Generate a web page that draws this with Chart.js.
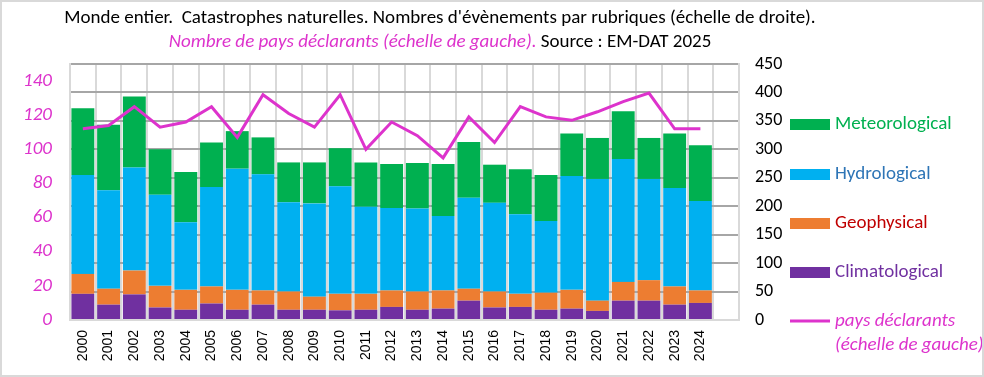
<!DOCTYPE html>
<html>
<head>
<meta charset="utf-8">
<script src="https://cdn.jsdelivr.net/npm/chart.js@4/dist/chart.umd.min.js"></script>
<style>
  html, body { margin: 0; padding: 0; background: #fff; }
  #wrap { width: 984px; height: 377px; }
</style>
</head>
<body>
<div id="wrap"><canvas id="myChart" width="984" height="377"></canvas></div>
<script>
// annees (la derniere case est vide, comme dans le graphique d'origine)
var annees = ["2000","2001","2002","2003","2004","2005","2006","2007","2008","2009","2010","2011","2012",
  "2013","2014","2015","2016","2017","2018","2019","2020","2021","2022","2023","2024",""];

// nombres d'evenements par rubrique (echelle de droite)
var climatological = [46,27,45,22,18,29,18,27,18,18,17,18,23,18,20,34,22,23,18,20,16,34,34,27,30];
var geophysical    = [35,28,42,38,35,30,35,25,32,23,29,28,29,32,32,21,28,23,30,33,18,33,36,32,22];
var hydrological   = [174,173,181,160,119,175,213,204,157,164,189,153,145,146,131,160,156,140,126,200,214,216,178,173,157];
var meteorological = [117,115,125,80,88,78,66,65,70,72,67,78,77,80,91,98,67,79,81,75,72,84,72,96,98];

// nombre de pays declarants (echelle de gauche)
var paysDeclarants = [112,114,125,113,116,125,107,132,121,113,132,100,116,108,95,119,104,125,119,117,122,128,133,112,112];

var ticksGauche = [0,20,40,60,80,100,120,140];

var MAGENTA = "#dd33cc";
var FONT = "Carlito, 'Liberation Sans Narrow', 'Open Sans', sans-serif";

var legende = [
  { label: "Meteorological", fill: "#00b050", text: "#00b050", y: 124 },
  { label: "Hydrological",   fill: "#00b0f0", text: "#2e75b6", y: 174 },
  { label: "Geophysical",    fill: "#ed7d31", text: "#c00000", y: 223 },
  { label: "Climatological", fill: "#7030a0", text: "#7030a0", y: 272 }
];

var decor = {
  id: "decor",
  beforeDraw: function (chart) {
    var ctx = chart.ctx;
    ctx.save();
    ctx.fillStyle = "#fff";
    ctx.fillRect(0, 0, chart.width, chart.height);
    ctx.restore();
  },
  afterDraw: function (chart) {
    var ctx = chart.ctx;
    ctx.save();
    // titre
    ctx.textBaseline = "middle";
    ctx.textAlign = "left";
    ctx.fillStyle = "#000";
    ctx.font = "19px " + FONT;
    var t1 = "Monde entier.  Catastrophes naturelles. Nombres d'\u00e9v\u00e8nements par rubriques (\u00e9chelle de droite).";
    var w1 = ctx.measureText(t1).width;
    ctx.fillText(t1, 440 - w1 / 2, 18);

    var t2a = "Nombre de pays d\u00e9clarants (\u00e9chelle de gauche).";
    var t2b = " Source : EM-DAT 2025";
    ctx.font = "italic 19px " + FONT;
    var wa = ctx.measureText(t2a).width;
    ctx.font = "19px " + FONT;
    var wb = ctx.measureText(t2b).width;
    var x2 = 440 - (wa + wb) / 2;
    ctx.font = "italic 19px " + FONT;
    ctx.fillStyle = MAGENTA;
    ctx.fillText(t2a, x2, 42);
    ctx.font = "19px " + FONT;
    ctx.fillStyle = "#000";
    ctx.fillText(t2b, x2 + wa, 42);

    // legende
    ctx.font = "19px " + FONT;
    legende.forEach(function (l) {
      ctx.fillStyle = l.fill;
      ctx.fillRect(790, l.y - 5, 40, 11);
      ctx.fillStyle = l.text;
      ctx.fillText(l.label, 835, l.y);
    });
    ctx.strokeStyle = MAGENTA;
    ctx.lineWidth = 3;
    ctx.beginPath();
    ctx.moveTo(790, 321);
    ctx.lineTo(830, 321);
    ctx.stroke();
    ctx.fillStyle = MAGENTA;
    ctx.font = "italic 19px " + FONT;
    ctx.fillText("pays d\u00e9clarants", 835, 321);
    ctx.fillText("(\u00e9chelle de gauche)", 835, 345);

    // cadre
    ctx.strokeStyle = "#d9d9d9";
    ctx.lineWidth = 2;
    ctx.strokeRect(1, 1, chart.width - 2, chart.height - 2);
    ctx.restore();
  }
};

new Chart(document.getElementById("myChart"), {
  type: "bar",
  data: {
    labels: annees,
    datasets: [
      { type: "line", label: "pays d\u00e9clarants", data: paysDeclarants, yAxisID: "yL",
        borderColor: MAGENTA, backgroundColor: MAGENTA, borderWidth: 3, pointRadius: 0, tension: 0, order: 0 },
      { label: "Climatological", data: climatological, yAxisID: "yR", backgroundColor: "#7030a0", order: 1 },
      { label: "Geophysical", data: geophysical, yAxisID: "yR", backgroundColor: "#ed7d31", order: 1 },
      { label: "Hydrological", data: hydrological, yAxisID: "yR", backgroundColor: "#00b0f0", order: 1 },
      { label: "Meteorological", data: meteorological, yAxisID: "yR", backgroundColor: "#00b050", order: 1 }
    ]
  },
  options: {
    responsive: false,
    animation: false,
    barPercentage: 0.89,
    categoryPercentage: 1,
    layout: { padding: { top: 64, right: 200, bottom: 0, left: 0 } },
    plugins: {
      legend: { display: false },
      title: { display: false },
      tooltip: { enabled: false }
    },
    scales: {
      x: {
        stacked: true,
        afterFit: function (s) { s.height = 57; },
        grid: { color: "#d9d9d9", lineWidth: 2, drawTicks: false, offset: true },
        border: { color: "#d9d9d9", width: 2 },
        ticks: { color: "#000", minRotation: 90, maxRotation: 90, padding: 10, autoSkip: false,
          font: { family: "'Liberation Sans', Arial, sans-serif", size: 14 } }
      },
      yL: {
        position: "left",
        min: 0, max: 150,
        afterFit: function (s) { s.width = 70; },
        grid: { display: false },
        border: { color: "#d9d9d9", width: 2 },
        afterBuildTicks: function (s) {
          s.ticks = ticksGauche.map(function (v) { return { value: v }; });
        },
        ticks: { color: MAGENTA, padding: 10,
          font: { family: FONT, size: 19, style: "italic" } }
      },
      yR: {
        position: "right",
        stacked: true,
        min: 0, max: 450,
        afterFit: function (s) { s.width = 45; },
        grid: { color: "#a6a6a6", lineWidth: 2, drawTicks: false },
        border: { color: "#d9d9d9", width: 2 },
        ticks: { stepSize: 50, color: "#000", padding: 16,
          font: { family: FONT, size: 18 } }
      }
    }
  },
  plugins: [decor]
});
</script>
</body>
</html>
